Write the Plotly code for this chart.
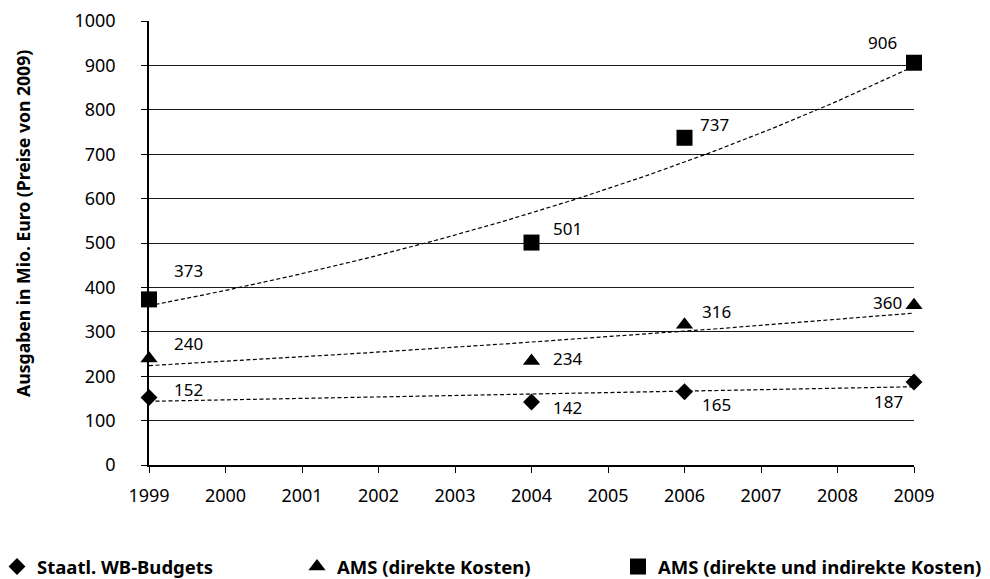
import numpy as np
import plotly.graph_objects as go

years = [1999, 2004, 2006, 2009]
staatl = [152, 142, 165, 187]
ams_direkt = [240, 234, 316, 360]
ams_gesamt = [373, 501, 737, 906]

series_names = ["Staatl. WB-Budgets", "AMS (direkte Kosten)", "AMS (direkte und indirekte Kosten)"]
y_ticks = list(range(0, 1001, 100))
x_ticks = list(range(1999, 2010))

FONT = "Noto Sans"
W, H = 990, 579
ML, MR, MT, MB = 141, 84, 13, 122
PW = W - ML - MR

series = [
    (series_names[0], staatl, "diamond", 13, [(39, -8), (36, 6), (32, 13), (-26, 20)], "legend", -11),
    (series_names[1], ams_direkt, "triangle-up", 15, [(39, -15), (36, -3), (32, -13), (-27, -3)], "legend2", 289),
    (series_names[2], ams_gesamt, "square", 16, [(39, -29), (36, -14), (30, -13), (-32, -20)], "legend3", 610),
]

fig = go.Figure()
xs = np.linspace(years[0], years[-1], 200)
for name, vals, sym, size, offs, lg, lx in series:
    # exponential trendline (Excel style: fit ln(y) linear in x)
    b, a = np.polyfit(years, np.log(vals), 1)
    fig.add_trace(go.Scatter(x=xs, y=np.exp(a + b * xs), mode="lines",
                             line=dict(color="black", width=1.2, dash="4px,2.5px"),
                             showlegend=False, hoverinfo="skip", cliponaxis=False))
legends = {}
for name, vals, sym, size, offs, lg, lx in series:
    fig.add_trace(go.Scatter(x=years, y=vals, mode="markers", name=name,
                             marker=dict(symbol=sym, size=size, color="black"),
                             cliponaxis=False, legend=lg))
    legends[lg] = dict(xref="paper", yref="container", x=(lx - ML) / PW, y=1 - 559 / H,
                       xanchor="left", yanchor="middle", itemsizing="trace",
                       bgcolor="rgba(0,0,0,0)",
                       font=dict(family=FONT, size=18.5, color="black", weight="bold"))
    for xv, yv, (dx, dy) in zip(years, vals, offs):
        fig.add_annotation(x=xv, y=yv, text=str(yv), showarrow=False,
                           xshift=dx, yshift=-dy,
                           font=dict(family=FONT, size=17, color="black"))

fig.add_annotation(xref="paper", yref="paper", x=0, y=0.543, xshift=-126,
                   xanchor="center", yanchor="middle",
                   text="<b>Ausgaben in Mio. Euro (Preise von 2009)</b>",
                   textangle=-90, showarrow=False,
                   font=dict(family=FONT, size=17.6, color="black"))

fig.update_layout(
    width=W, height=H,
    margin=dict(l=ML, r=MR, t=MT, b=MB, autoexpand=False),
    plot_bgcolor="white", paper_bgcolor="white",
    font=dict(family=FONT, size=18, color="black"),
    showlegend=True,
    **legends,
)
fig.update_xaxes(range=[1999, 2009], tickvals=x_ticks, ticktext=[str(t) for t in x_ticks],
                 showgrid=False, showline=True, linecolor="black", linewidth=1.5,
                 ticks="outside", ticklen=6, tickcolor="black", tickwidth=1.2,
                 zeroline=False, ticklabelstandoff=8, automargin=False)
fig.update_yaxes(range=[0, 1000], tickvals=y_ticks, showgrid=True, gridcolor="#1a1a1a",
                 gridwidth=1.4, showline=True, linecolor="black", linewidth=1.5,
                 ticks="outside", ticklen=6, tickcolor="black", tickwidth=1.2,
                 zeroline=False, ticklabelstandoff=22, automargin=False)

fig.write_html("out.html")
